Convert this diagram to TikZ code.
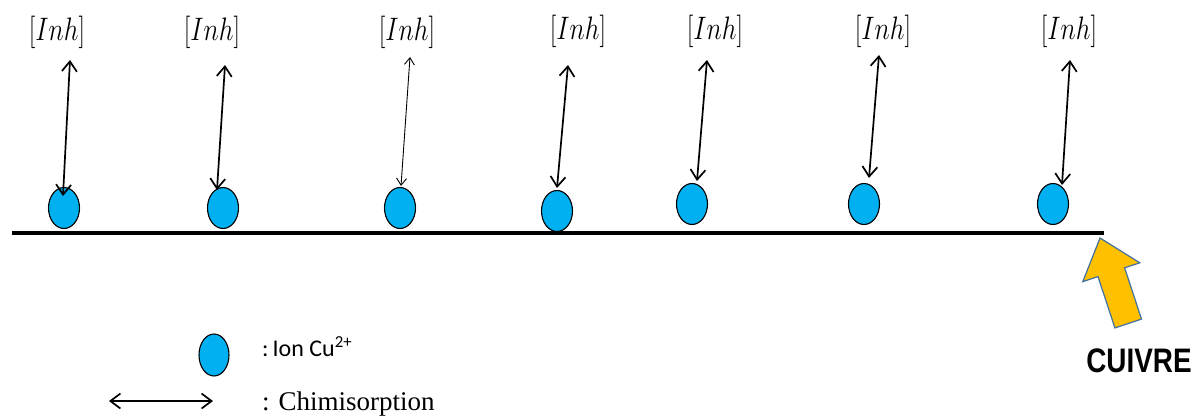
\RequirePackage{fix-cm}
\documentclass[tikz,border=0pt]{standalone}
\usepackage{graphicx}
\usepackage{fontspec}
\usetikzlibrary{arrows.meta,shapes.geometric}
\newfontfamily\carlito{Carlito}
\newfontfamily\libserif{Liberation Serif}
\newfontfamily\libsans{Liberation Sans}
\definecolor{ioncol}{HTML}{00B0F0}
\definecolor{goldcol}{HTML}{FFC000}
\definecolor{goldedge}{HTML}{41719C}
\newcommand{\inhlabel}{\scalebox{1}[1.25]{$[Inh]$}}
\begin{document}
\begin{tikzpicture}[x=1pt,y=-1pt,
  ion/.style={ellipse,draw=black,line width=1.1pt,fill=ioncol,minimum width=31pt,minimum height=41pt,inner sep=0pt},
  lab/.style={inner sep=0pt,font=\fontsize{26}{31}\selectfont},
  chemi/.style={line width=1.7pt,{Straight Barb[length=10pt,width=15pt]}-{Straight Barb[length=10pt,width=15pt]}},
  chemithin/.style={line width=0.9pt,{Straight Barb[length=7pt,width=10pt]}-{Straight Barb[length=7pt,width=10pt]}}]
\useasboundingbox (0,0) rectangle (1195,417);
% surface
\coordinate (s0) at (12,233);
\coordinate (s1) at (1104,233);
\draw[line width=3.5pt] (s0) -- (s1);
% ions
\node[ion] (c1) at (64,208) {};
\node[ion] (c2) at (223,208) {};
\node[ion] (c3) at (400,208) {};
\node[ion] (c4) at (557,211) {};
\node[ion] (c5) at (692,204) {};
\node[ion] (c6) at (864,204) {};
\node[ion] (c7) at (1053,204) {};
% labels
\node[lab] (l1) at (57,32) {\inhlabel};
\node[lab] (l2) at (212,32) {\inhlabel};
\node[lab] (l3) at (407,32) {\inhlabel};
\node[lab] (l4) at (578,31) {\inhlabel};
\node[lab] (l5) at (715,31) {\inhlabel};
\node[lab] (l6) at (883,31) {\inhlabel};
\node[lab] (l7) at (1069,31) {\inhlabel};
% arrow ends
\coordinate (t1) at (70,60);   \coordinate (b1) at (63,196);
\coordinate (t2) at (225,65);  \coordinate (b2) at (217,190);
\coordinate (t3) at (410,57);  \coordinate (b3) at (401,186);
\coordinate (t4) at (568,65);  \coordinate (b4) at (557,188);
\coordinate (t5) at (707,60);  \coordinate (b5) at (697,181);
\coordinate (t6) at (879,55);  \coordinate (b6) at (869,178);
\coordinate (t7) at (1070,60); \coordinate (b7) at (1062,185);
\draw[chemi] (t1) -- (b1);
\draw[chemi] (t2) -- (b2);
\draw[chemithin] (t3) -- (b3);
\draw[chemi] (t4) -- (b4);
\draw[chemi] (t5) -- (b5);
\draw[chemi] (t6) -- (b6);
\draw[chemi] (t7) -- (b7);
% copper arrow
\draw[fill=goldcol,draw=goldedge,line width=1.2pt,line join=miter]
  (1100,238) -- (1139.8,262.8) -- (1124.6,267.8) -- (1141.5,319.1)
  -- (1114.9,327.9) -- (1098,276.6) -- (1082.8,281.6) -- cycle;
\node[anchor=base,inner sep=0pt] (cu) at (1139,372)
  {\scalebox{0.82}[1]{\libsans\bfseries\fontsize{34}{40}\selectfont CUIVRE}};
% legend
\node[ion,minimum width=30pt,minimum height=42pt] (lc) at (214,355) {};
\node[anchor=base west,inner sep=0pt] (lt1) at (262,356)
  {\carlito\fontsize{24}{28}\selectfont :\,Ion Cu\textsuperscript{2+}};
\coordinate (la0) at (109,401);
\coordinate (la1) at (213,401);
\draw[chemi] (la0) -- (la1);
\node[anchor=base west,inner sep=0pt] (lt2) at (262,410)
  {\libserif\fontsize{27}{32}\selectfont : Chimisorption};
\end{tikzpicture}
\end{document}
